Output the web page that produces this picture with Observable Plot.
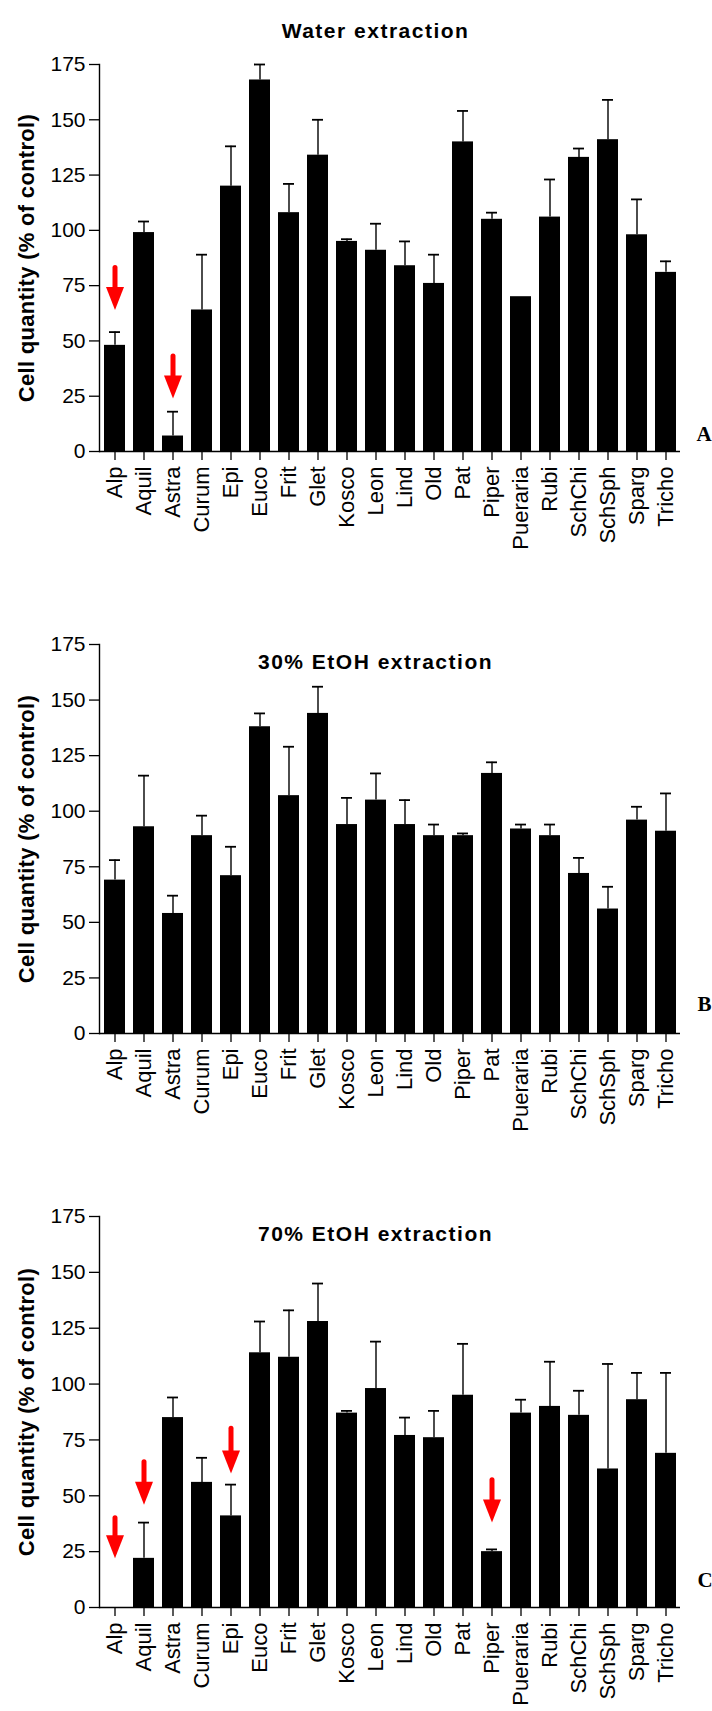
<!DOCTYPE html>
<html><head><meta charset="utf-8">
<script src="https://cdn.jsdelivr.net/npm/d3@7"></script>
<script src="https://cdn.jsdelivr.net/npm/@observablehq/plot@0.6"></script>
<style>
body{margin:0;background:#fff;}
#wrap{position:relative;width:712px;height:1711px;overflow:hidden;background:#fff;}
#wrap svg{position:absolute;left:0;}
</style></head><body><div id="wrap"></div>
<script>
// ---- data ----
const catsA = ["Alp","Aquil","Astra","Curum","Epi","Euco","Frit","Glet","Kosco","Leon","Lind","Old","Pat","Piper","Pueraria","Rubi","SchChi","SchSph","Sparg","Tricho"];
const valsA = [48,99,7,64,120,168,108,134,95,91,84,76,140,105,70,106,133,141,98,81];
const errA  = [6,5,11,25,18,7,13,16,1,12,11,13,14,3,0,17,4,18,16,5];

const catsB = ["Alp","Aquil","Astra","Curum","Epi","Euco","Frit","Glet","Kosco","Leon","Lind","Old","Piper","Pat","Pueraria","Rubi","SchChi","SchSph","Sparg","Tricho"];
const valsB = [69,93,54,89,71,138,107,144,94,105,94,89,89,117,92,89,72,56,96,91];
const errB  = [9,23,8,9,13,6,22,12,12,12,11,5,1,5,2,5,7,10,6,17];

const catsC = ["Alp","Aquil","Astra","Curum","Epi","Euco","Frit","Glet","Kosco","Leon","Lind","Old","Pat","Piper","Pueraria","Rubi","SchChi","SchSph","Sparg","Tricho"];
const valsC = [0,22,85,56,41,114,112,128,87,98,77,76,95,25,87,90,86,62,93,69];
const errC  = [0,16,9,11,14,14,21,17,1,21,8,12,23,1,6,20,11,47,12,36];

// red arrows: category, tip value, tail value
const arrowCatsA = ["Alp","Astra"];
const arrowTipA  = [64,24];
const arrowTailA = [83,43];
const arrowCatsC = ["Alp","Aquil","Epi","Piper"];
const arrowTipC  = [22,46,60,38];
const arrowTailC = [40,65,80,57];
const arrowCatsB = [];
const arrowTipB = [];
const arrowTailB = [];

const yTicks = [0,25,50,75,100,125,150,175];
const titles = ["Water extraction","30% EtOH extraction","70% EtOH extraction"];
const letters = ["A","B","C"];
const yLabel = "Cell quantity (% of control)";

// ---- layout ----
const panels = [
  {cats:catsA, vals:valsA, errs:errA, ac:arrowCatsA, at:arrowTipA, al:arrowTailA, top:0,    height:560, mt:64, mb:109, titleDy:-41, letDx:16, letDy:-11},
  {cats:catsB, vals:valsB, errs:errB, ac:arrowCatsB, at:arrowTipB, al:arrowTailB, top:580,  height:560, mt:64, mb:107, titleDy:10,  letDx:17, letDy:-23},
  {cats:catsC, vals:valsC, errs:errC, ac:arrowCatsC, at:arrowTipC, al:arrowTailC, top:1152, height:559, mt:64, mb:104, titleDy:10,  letDx:17, letDy:-21}
];

const headDown = {draw(ctx){ ctx.moveTo(-9,-23); ctx.lineTo(9,-23); ctx.lineTo(0,0); ctx.closePath(); }};
const wrap = document.getElementById("wrap");

panels.forEach((p, i) => {
  const data = p.cats.map((c, k) => ({name:c, value:p.vals[k], err:p.errs[k]}));
  const withErr = data.filter(d => d.err > 0);
  const arrows = p.ac.map((c, k) => ({name:c, tip:p.at[k], tail:p.al[k]}));
  const chart = Plot.plot({
    width: 712,
    height: p.height,
    marginTop: p.mt,
    marginBottom: p.mb,
    marginLeft: 99,
    marginRight: 32,
    style: {fontFamily: "'Liberation Sans', Arial, sans-serif", color: "black", background: "white"},
    x: {type: "band", domain: p.cats, paddingInner: 0.29, paddingOuter: 0.15},
    y: {domain: [0, 175]},
    marks: [
      Plot.barY(data, {x: "name", y: "value", fill: "black"}),
      Plot.ruleX(withErr, {x: "name", y1: "value", y2: d => d.value + d.err, stroke: "black", strokeWidth: 1.4}),
      Plot.tickY(withErr, {x: "name", y: d => d.value + d.err, stroke: "black", strokeWidth: 1.8, insetLeft: 5, insetRight: 5}),
      Plot.ruleY([0], {stroke: "black", strokeWidth: 1.4}),
      Plot.frame({anchor: "left", stroke: "black", strokeWidth: 1.4}),
      Plot.axisY({ticks: yTicks, tickSize: 10, tickPadding: 4, fontSize: 21, label: null, strokeWidth: 1.3}),
      Plot.axisX({tickRotate: -90, tickSize: 9, tickPadding: 6, fontSize: 22, label: null, strokeWidth: 1.3}),
      Plot.ruleX(arrows, {x: "name", y1: "tail", y2: "tip", stroke: "#ff0000", strokeWidth: 5, strokeLinecap: "round", insetBottom: 12}),
      Plot.dot(arrows, {x: "name", y: "tip", symbol: headDown, fill: "#ff0000", stroke: null, r: 5}),
      Plot.text([titles[i]], {text: d => d, frameAnchor: "top", textAnchor: "middle", dx: -14.5, dy: p.titleDy, fontSize: 21, fontWeight: "bold"}),
      Plot.text([yLabel], {text: d => d, frameAnchor: "left", textAnchor: "middle", dx: -73, rotate: -90, fontSize: 22, fontWeight: "bold"}),
      Plot.text([letters[i]], {text: d => d, frameAnchor: "bottom-right", textAnchor: "start", dx: p.letDx, dy: p.letDy, fontSize: 21, fontWeight: "bold", fontFamily: "'Liberation Serif', 'Times New Roman', serif"})
    ]
  });
  chart.style.top = p.top + "px";
  chart.querySelectorAll("text").forEach(t => {
    if (titles.includes(t.textContent)) t.setAttribute("letter-spacing", "1.5");
    if (t.textContent === yLabel) t.setAttribute("letter-spacing", "0.3");
  });
  wrap.appendChild(chart);
});
</script>
</body></html>
